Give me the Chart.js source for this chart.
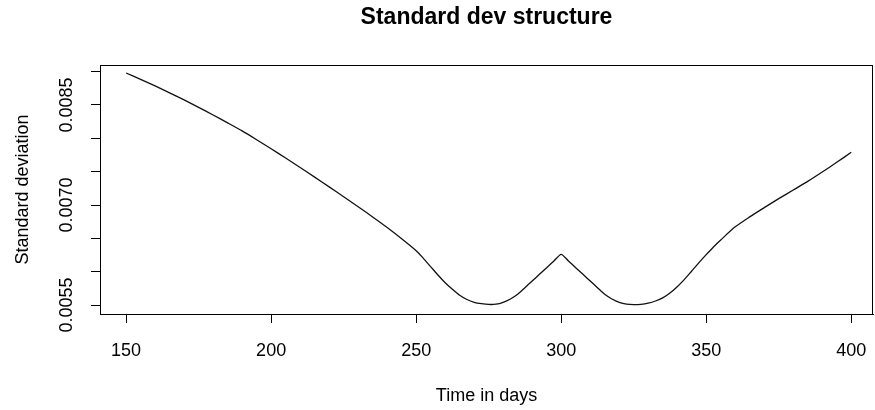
<!DOCTYPE html>
<html>
<head>
<meta charset="utf-8">
<script src="https://cdn.jsdelivr.net/npm/chart.js@4"></script>
<style>
html,body{margin:0;padding:0;background:#ffffff;}
#wrap{width:875px;height:410px;}
</style>
</head>
<body>
<div id="wrap"><canvas id="c" width="875" height="410"></canvas></div>
<script>
// ---- data ----
const days = [150,155,160,165,170,175,180,185,190,195,200,205,210,215,220,225,230,235,240,245,
              250,252.5,255,257.5,260,262.5,265,267.5,270,272.5,275,277.5,280,282.5,285,287.5,
              290,292.5,295,297.5,300,302.5,305,307.5,310,312.5,315,317.5,320,322.5,325,327.5,
              330,332.5,335,337.5,340,342.5,345,347.5,350,352.5,355,360,365,370,375,380,385,
              390,395,400];
const stdDev = [0.008980,0.008885,0.008786,0.008683,0.008576,0.008465,0.008350,0.008232,0.008111,0.007979,
                0.007843,0.007704,0.007562,0.007418,0.007272,0.007124,0.006974,0.006821,0.006663,0.006495,
                0.006315,0.006200,0.006075,0.005950,0.005835,0.005735,0.005645,0.005582,0.005541,0.005520,
                0.005508,0.005512,0.005540,0.005590,0.005660,0.005760,0.005860,0.005960,0.006060,0.006160,
                0.006260,0.006160,0.006060,0.005960,0.005860,0.005760,0.005660,0.005590,0.005540,0.005512,
                0.005505,0.005510,0.005528,0.005560,0.005607,0.005680,0.005775,0.005885,0.006010,0.006135,
                0.006255,0.006370,0.006475,0.006672,0.006822,0.006960,0.007095,0.007225,0.007355,0.007495,
                0.007640,0.007790];
const xTickValues = [150,200,250,300,350,400];
const yTickValues = [0.0055,0.0060,0.0065,0.0070,0.0075,0.0080,0.0085,0.0090];
const yTickLabels = ['0.0055','','','0.0070','','','0.0085',''];
const chartTitle = 'Standard dev structure';
const xAxisTitle = 'Time in days';
const yAxisTitle = 'Standard deviation';

const FONT = "'Liberation Sans', Arial, Helvetica, sans-serif";

const boxPlugin = {
  id: 'boxPlugin',
  afterDraw(chart) {
    const {ctx, chartArea: a, scales} = chart;
    ctx.save();
    ctx.strokeStyle = '#000';
    ctx.lineWidth = 1;
    ctx.strokeRect(Math.round(a.left) + 0.5, Math.round(a.top) + 0.5,
                   Math.round(a.right - a.left) - 1, Math.round(a.bottom - a.top));
    // rotated y tick labels (R style)
    ctx.fillStyle = '#000';
    ctx.font = '18px ' + FONT;
    ctx.textAlign = 'center';
    ctx.textBaseline = 'middle';
    yTickValues.forEach((v, i) => {
      const lab = yTickLabels[i];
      if (!lab) return;
      const y = scales.y.getPixelForValue(v);
      ctx.save();
      ctx.translate(a.left - 33, y);
      ctx.rotate(-Math.PI / 2);
      ctx.fillText(lab, 0, 0);
      ctx.restore();
    });
    ctx.restore();
  }
};

new Chart(document.getElementById('c'), {
  type: 'line',
  data: {
    datasets: [{
      data: days.map((d, i) => ({x: d, y: stdDev[i]})),
      borderColor: '#111',
      borderWidth: 1.3,
      pointRadius: 0,
      tension: 0.25,
      fill: false
    }]
  },
  options: {
    responsive: false,
    animation: false,
    devicePixelRatio: 1,
    layout: {padding: {left: 0, right: 2, top: 0, bottom: 0}},
    plugins: {
      legend: {display: false},
      tooltip: {enabled: false},
      title: {
        display: true,
        text: chartTitle,
        fullSize: false,
        color: '#000',
        font: {family: FONT, size: 23, weight: 'bold'},
        padding: {top: 3.5, bottom: 33.9}
      }
    },
    scales: {
      x: {
        type: 'linear',
        min: 141,
        max: 407.5,
        afterBuildTicks: s => { s.ticks = xTickValues.map(v => ({value: v})); },
        afterFit: s => { s.height = 96; s.paddingLeft = 0; s.paddingRight = 0; },
        ticks: {
          color: '#000',
          font: {family: FONT, size: 18},
          padding: 17,
          maxRotation: 0,
          autoSkip: false,
          callback: v => String(v)
        },
        grid: {drawOnChartArea: false, drawTicks: true, tickLength: 9, color: '#000', lineWidth: 1},
        border: {display: true, color: '#000', width: 1},
        title: {
          display: true,
          text: xAxisTitle,
          color: '#000',
          font: {family: FONT, size: 18},
          padding: {top: 0, bottom: 3}
        }
      },
      y: {
        type: 'linear',
        min: 0.005365,
        max: 0.0091,
        afterBuildTicks: s => { s.ticks = yTickValues.map(v => ({value: v})); },
        afterFit: s => { s.width = 100; s.paddingTop = 0; s.paddingBottom = 0; },
        ticks: {display: false},
        grid: {drawOnChartArea: false, drawTicks: true, tickLength: 9, color: '#000', lineWidth: 1},
        border: {display: true, color: '#000', width: 1},
        title: {
          display: true,
          text: yAxisTitle,
          color: '#000',
          font: {family: FONT, size: 18},
          padding: {top: 12, bottom: 0}
        }
      }
    }
  },
  plugins: [boxPlugin]
});
</script>
</body>
</html>
